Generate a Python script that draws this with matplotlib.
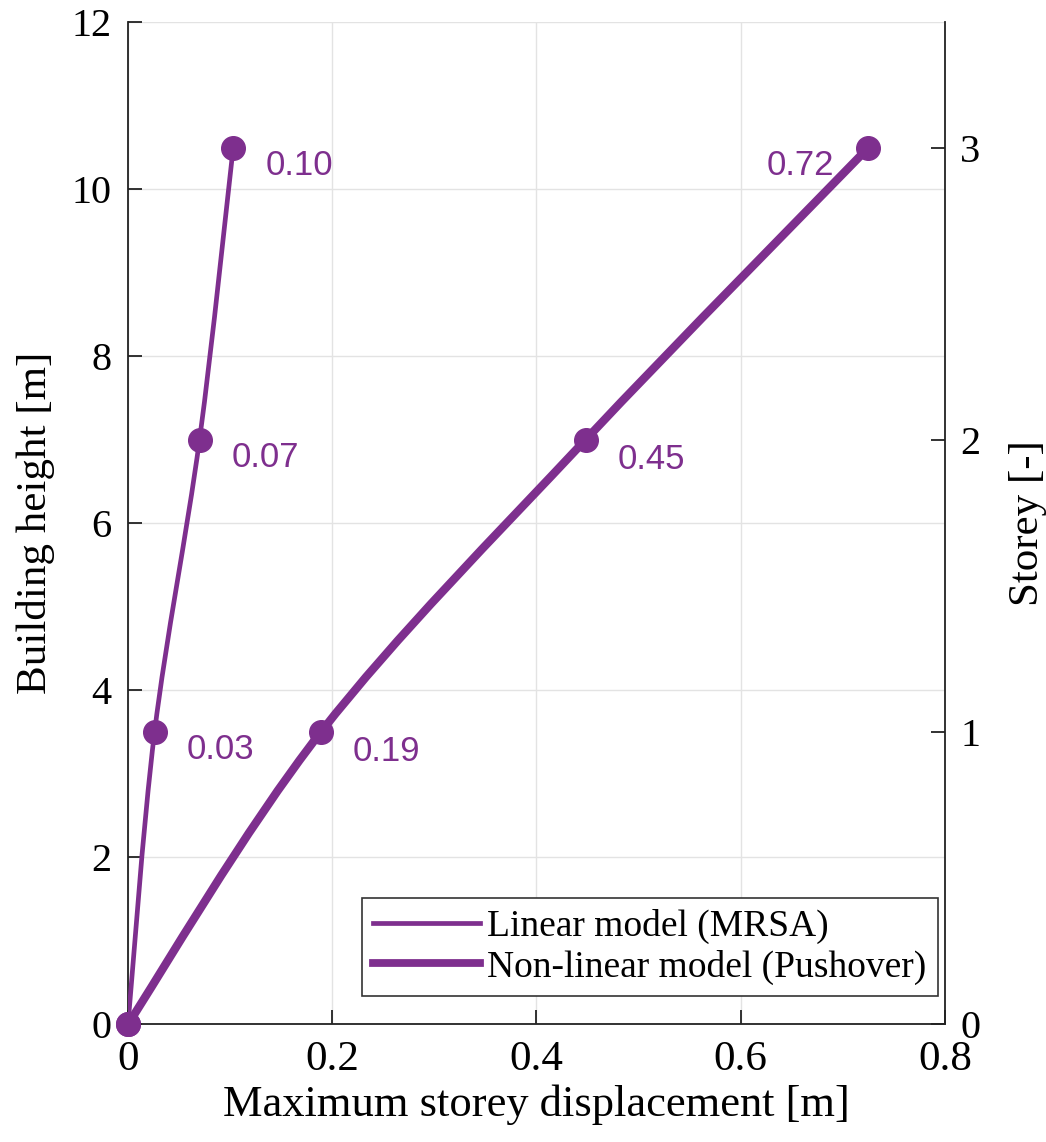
import matplotlib.pyplot as plt
from matplotlib.path import Path
from matplotlib.patches import PathPatch

plt.rcParams['font.family'] = ['Liberation Serif', 'DejaVu Serif']

# data
heights = [0.0, 3.5, 7.0, 10.5]
storeys = [0, 1, 2, 3]
disp_linear = [0.0, 0.026, 0.070, 0.103]
disp_pushover = [0.0, 0.189, 0.448, 0.725]
labels_linear = ['0.03', '0.07', '0.10']
labels_pushover = ['0.19', '0.45', '0.72']
legend_names = ['Linear model (MRSA)', 'Non-linear model (Pushover)']

purple = '#7E2F8E'


def smooth_path(xs, ys):
    # Catmull-Rom through the points, drawn as cubic bezier segments
    pts = list(zip(xs, ys))
    ext = [pts[0]] + pts + [pts[-1]]
    verts = [pts[0]]
    codes = [Path.MOVETO]
    for i in range(1, len(ext) - 2):
        p0, p1, p2, p3 = ext[i - 1], ext[i], ext[i + 1], ext[i + 2]
        c1 = (p1[0] + (p2[0] - p0[0]) / 6, p1[1] + (p2[1] - p0[1]) / 6)
        c2 = (p2[0] - (p3[0] - p1[0]) / 6, p2[1] - (p3[1] - p1[1]) / 6)
        verts += [c1, c2, p2]
        codes += [Path.CURVE4] * 3
    return Path(verts, codes)


fig = plt.figure(figsize=(10.46, 11.42), dpi=100)
ax = fig.add_axes([0.1224, 0.1033, 0.781, 0.877])

for xs, lw in [(disp_linear, 3.4), (disp_pushover, 6.0)]:
    ax.add_patch(PathPatch(smooth_path(xs, heights), facecolor='none',
                           edgecolor=purple, lw=lw, capstyle='round', zorder=3))
    ax.plot(xs, heights, 'o', color=purple, ms=17, zorder=4, clip_on=False)

# legend proxies
h1, = ax.plot([], [], color=purple, lw=3.4)
h2, = ax.plot([], [], color=purple, lw=5.6)

for x, y, s in zip(disp_linear[1:], heights[1:], labels_linear):
    ax.annotate(s, (x, y), xytext=(23, -13), textcoords='offset points',
                ha='left', va='center', color=purple, fontsize=25,
                family='Liberation Sans')
for x, y, s in zip(disp_pushover[1:-1], heights[1:-1], labels_pushover[:-1]):
    ax.annotate(s, (x, y), xytext=(23, -14), textcoords='offset points',
                ha='left', va='center', color=purple, fontsize=25,
                family='Liberation Sans')
ax.annotate(labels_pushover[-1], (disp_pushover[-1], heights[-1]), xytext=(-25, -13),
            textcoords='offset points', ha='right', va='center', color=purple,
            fontsize=25, family='Liberation Sans')

ax.set_xlim(0, 0.8)
ax.set_ylim(0, 12)
ax.set_xticks([0, 0.2, 0.4, 0.6, 0.8])
ax.set_xticklabels(['0', '0.2', '0.4', '0.6', '0.8'])
ax.set_yticks([0, 2, 4, 6, 8, 10, 12])
ax.grid(True, color='#e3e3e3', lw=1.0)
ax.set_axisbelow(True)
ax.spines['top'].set_visible(False)
ax.spines['right'].set_visible(False)
for s in ['left', 'bottom']:
    ax.spines[s].set_linewidth(1.3)
    ax.spines[s].set_color('#222222')
ax.tick_params(direction='in', length=10, width=1.3, labelsize=29, pad=12,
               colors='#222222', labelcolor='black')
ax.tick_params(axis='x', labelsize=31)
ax.set_xlabel('Maximum storey displacement [m]', fontsize=32, labelpad=4)
ax.set_ylabel('Building height [m]', fontsize=31, labelpad=12)

ax2 = ax.twinx()
ax2.set_ylim(0, 12 / 3.5)
ax2.set_yticks(storeys)
ax2.spines['top'].set_visible(False)
ax2.spines['left'].set_visible(False)
ax2.spines['bottom'].set_visible(False)
ax2.spines['right'].set_linewidth(1.3)
ax2.spines['right'].set_color('#222222')
ax2.tick_params(direction='in', length=10, width=1.3, labelsize=29, pad=11,
                colors='#222222', labelcolor='black')
ax2.set_ylabel('Storey [-]', fontsize=31, labelpad=20)

leg = ax.legend([h1, h2], legend_names, loc='lower right', fontsize=27,
                fancybox=False, framealpha=1, edgecolor='#333333',
                handlelength=2.85, handletextpad=0.2, borderpad=0.3,
                labelspacing=0.15, borderaxespad=0,
                bbox_to_anchor=(0.9914, 0.028))
leg.get_frame().set_linewidth(1.2)

fig.savefig('out.png', dpi=100)
